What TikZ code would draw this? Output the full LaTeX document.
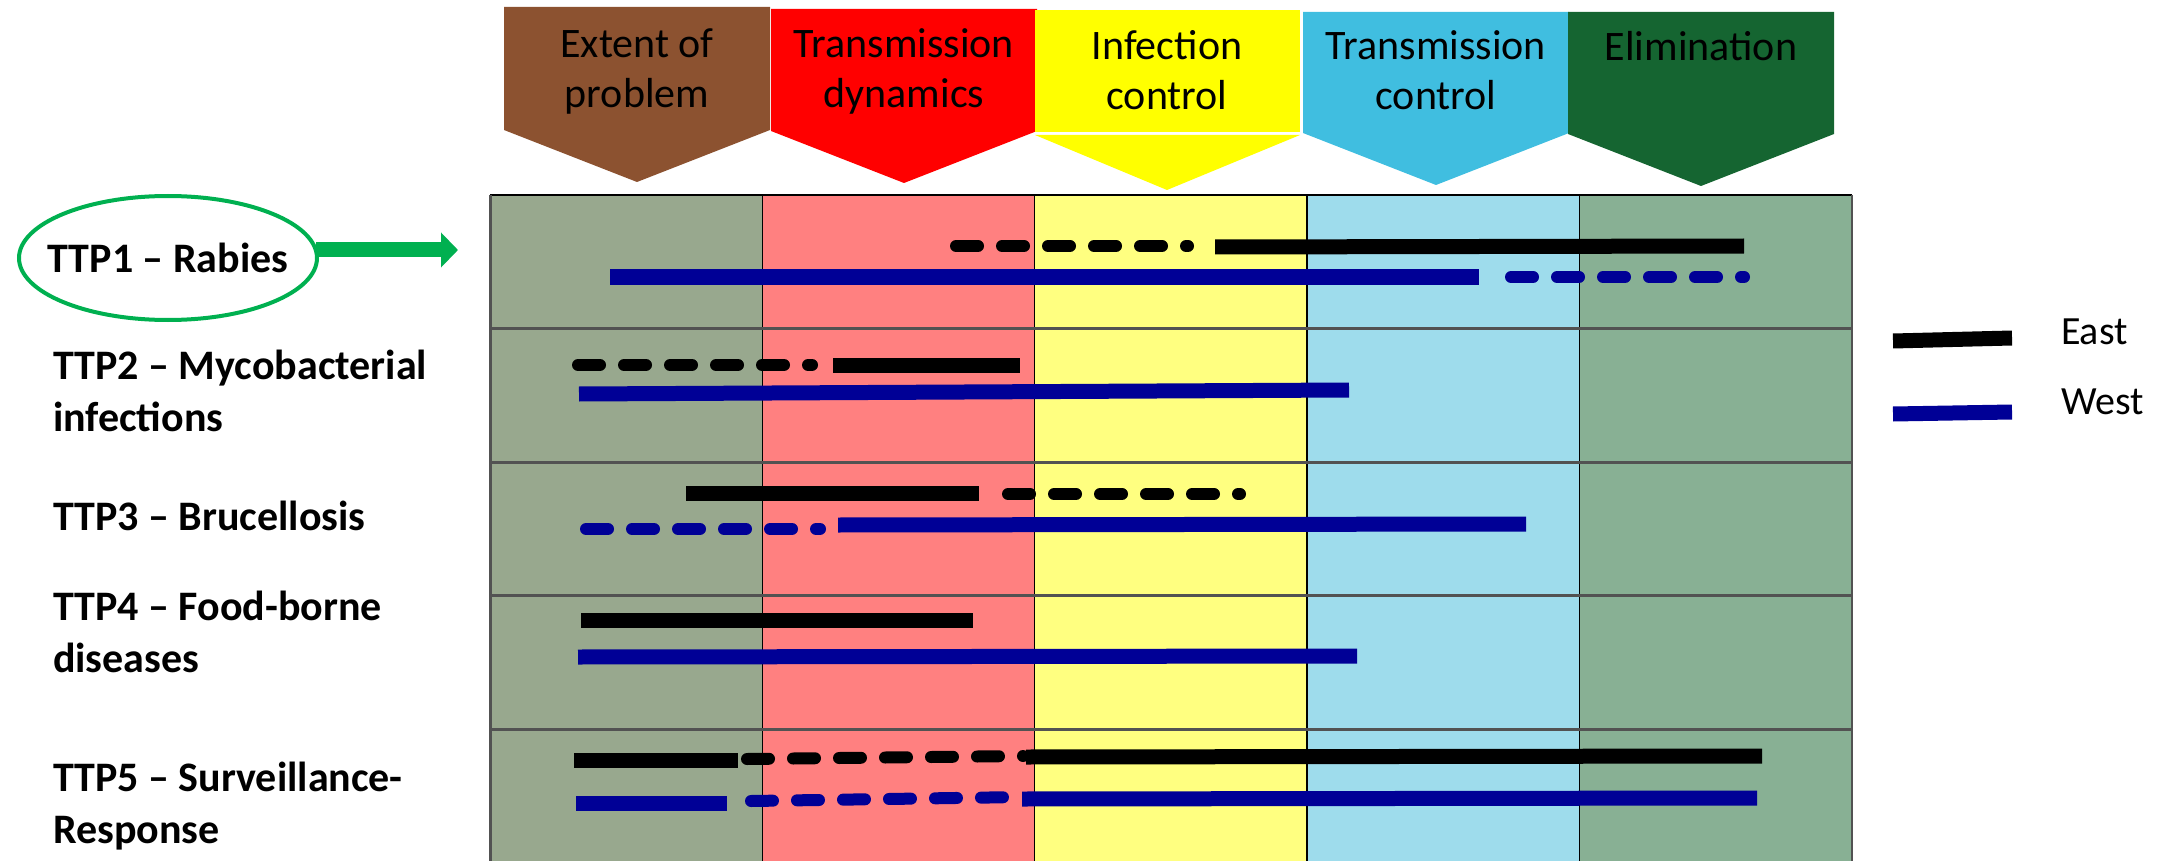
\documentclass[tikz,border=0pt]{standalone}
\usepackage{fontspec}
\setmainfont{Carlito}
\usepackage{tikz}
\usetikzlibrary{arrows.meta}
\definecolor{stageBrown}{RGB}{140,82,48}
\definecolor{stageRed}{RGB}{255,0,0}
\definecolor{stageYellow}{RGB}{255,255,0}
\definecolor{stageBlue}{RGB}{64,190,224}
\definecolor{stageGreen}{RGB}{21,101,49}
\definecolor{colProblem}{RGB}{152,168,142}
\definecolor{colDynamics}{RGB}{255,128,128}
\definecolor{colInfection}{RGB}{255,255,128}
\definecolor{colTransmission}{RGB}{158,220,236}
\definecolor{colElimination}{RGB}{136,176,148}
\definecolor{westBlue}{RGB}{0,0,150}
\definecolor{markGreen}{RGB}{0,176,80}
\tikzset{%
	stage text/.style={
		anchor=base,
		align=center,
		font=\fontsize{21}{25}\selectfont
	},
	ttp label/.style={
		anchor=base west,
		align=left,
		font=\fontsize{21}{26}\selectfont\bfseries
	},
	legend text/.style={
		anchor=base west,
		font=\fontsize{20}{24}\selectfont
	},
	row line/.style={line width=1.5pt, black!68},
	col line/.style={line width=0.7pt, black},
	east line/.style={line width=7.5pt, black},
	west line/.style={line width=7.5pt, westBlue},
	planned/.style={line width=6pt, line cap=round, dash pattern=on 11pt off 12pt},
}

\begin{document}
\begin{tikzpicture}[x=0.5pt, y=-0.5pt, >=stealth]
	\useasboundingbox (0,0) rectangle (2178,861);
	
	% grid
	\foreach \c [count=\i from 0] in {colProblem, colDynamics, colInfection, colTransmission, colElimination}
	\fill [\c] (490+\i*272.3,195) rectangle ++(272.3,666);
	
	\foreach \i in {1,...,4}
	\draw [col line] (490+\i*272.3,195) -- ++(0,666);
	
	\foreach \i in {1,...,4}
	\draw [row line] (490,195+\i*133.5) -- (1852,195+\i*133.5);
	
	\draw [col line] (490,195) -- (1852,195);
	\draw [row line] (490,195) -- (490,861);
	\draw [row line, line width=1pt] (1852,195) -- (1852,861);
	
	% stages (base = last line)
	\foreach \l/\c/\t/\tip/\b/\txt [count=\i] in {
		504/stageBrown/7/182/108/{Extent of\\problem},
		771/stageRed/9/183/108/{Transmission\\dynamics},
		1303/stageBlue/12/185/110/{Transmission\\control},
		1568/stageGreen/12/186/61/{Elimination}}
	{
		\fill [\c] (\l,\t) -- (\l+266,\t) -- (\l+266,\tip-52) -- (\l+133,\tip) -- (\l,\tip-52) -- cycle;
		\node [stage text] (stage-\i) at (\l+133,\b) {\txt};
	}
	
	\fill [stageYellow] (1035,10) rectangle (1300,132);
	\fill [stageYellow] (1035,135) -- (1300,135) -- (1167,190) -- cycle;
	\node [stage text] (stage-yellow) at (1167,110) {Infection\\control};
	
	% topics
	\node [font=\fontsize{21}{26}\selectfont\bfseries, inner sep=0pt] (ttp-1) at (168,258) {TTP1 – Rabies};
	\draw [markGreen, line width=2pt] (ttp-1.center) ellipse [x radius=74.5pt, y radius=31pt];
	\coordinate (ttp-1-edge) at ([xshift=74pt,yshift=4pt]ttp-1.center);
	\coordinate (ttp-1-tip) at (458,250);
	\draw [line width=7.5pt, markGreen, -{Triangle[width=17pt,length=8.5pt]}]
	(ttp-1-edge) -- (ttp-1-tip);
	
	\node [ttp label] (ttp-2) at (46,431) {TTP2 – Mycobacterial\\infections};
	\node [ttp label] (ttp-3) at (46,530) {TTP3 – Brucellosis};
	\node [ttp label] (ttp-4) at (46,672) {TTP4 – Food-borne\\diseases};
	\node [ttp label] (ttp-5) at (46,843) {TTP5 – Surveillance-\\Response};
	
	% TTP1
	\draw [black, planned] (956,246) -- (1188,246);
	\draw [east line] (1215,247) -- (1744,246);
	\draw [west line] (610,277) -- (1479,277);
	\draw [westBlue, planned] (1511,277) -- (1744,277);
	
	% TTP2
	\draw [black, planned] (578,365) -- (812,365);
	\draw [east line] (833,365) -- (1020,365);
	\draw [west line] (579,394) -- (1349,390);
	
	% TTP3
	\draw [east line] (686,493) -- (979,493);
	\draw [black, planned] (1008,494) -- (1240,494);
	\draw [westBlue, planned] (586,529) -- (820,529);
	\draw [west line] (838,525) -- (1526,524);
	
	% TTP4
	\draw [east line] (581,620) -- (973,620);
	\draw [west line] (578,657) -- (1357,656);
	
	% TTP5
	\draw [east line] (574,760) -- (738,760);
	\draw [black, planned] (747,759) -- (1023,756);
	\draw [east line] (1026,757) -- (1762,756);
	\draw [west line] (576,803) -- (727,803);
	\draw [westBlue, planned] (751,801) -- (1023,797);
	\draw [west line] (1022,799) -- (1757,798);
	
	% legend
	\draw [east line] (1893,341) -- (2012,338);
	\draw [west line] (1893,414) -- (2012,412);
	\node [legend text] (key-east) at (2054,344) {East};
	\node [legend text] (key-west) at (2054,414) {West};
	
\end{tikzpicture}
\end{document}
